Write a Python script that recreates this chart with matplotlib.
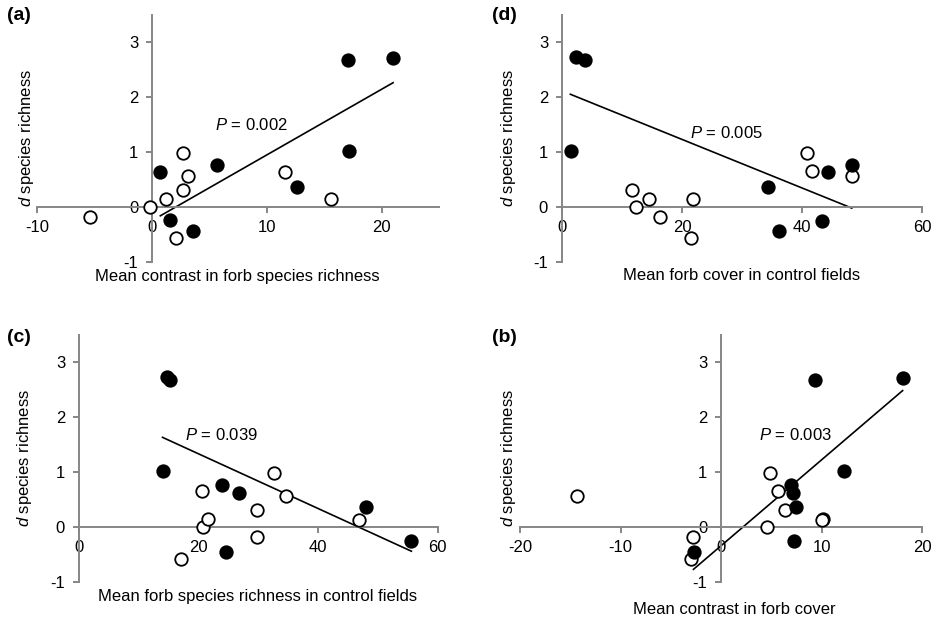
import matplotlib
matplotlib.use("Agg")
import matplotlib.pyplot as plt

plt.rcParams["font.family"] = ["Liberation Sans", "DejaVu Sans"]
plt.rcParams["mathtext.fontset"] = "custom"
plt.rcParams["mathtext.rm"] = "Liberation Sans"
plt.rcParams["mathtext.it"] = "Liberation Sans:italic"
plt.rcParams["axes.unicode_minus"] = False

# (a) mean contrast in forb species richness
a_x_filled = [0.73, 1.54, 3.58, 5.7, 12.65, 17.03, 17.18, 21.0]
a_y_filled = [0.64, -0.24, -0.44, 0.77, 0.37, 2.67, 1.01, 2.71]
a_x_open = [-5.44, -0.15, 1.25, 2.12, 2.7, 2.7, 3.14, 11.57, 15.55]
a_y_open = [-0.19, 0.0, 0.14, -0.57, 0.98, 0.31, 0.56, 0.64, 0.14]
a_line_x = [0.72, 21.0]
a_line_y = [-0.16, 2.26]

# (d) mean forb cover in control fields
d_x_filled = [1.56, 2.39, 3.89, 34.3, 36.2, 43.3, 44.3, 48.3]
d_y_filled = [1.01, 2.72, 2.67, 0.37, -0.44, -0.25, 0.64, 0.77]
d_x_open = [11.6, 12.4, 14.5, 16.3, 21.5, 21.8, 40.8, 41.7, 48.4]
d_y_open = [0.31, 0.0, 0.14, -0.19, -0.57, 0.14, 0.98, 0.65, 0.56]
d_line_x = [1.39, 48.3]
d_line_y = [2.05, -0.02]

# (c) mean forb species richness in control fields
c_x_filled = [13.97, 14.8, 15.25, 24.0, 24.6, 26.8, 48.0, 55.6]
c_y_filled = [1.01, 2.72, 2.67, 0.76, -0.45, 0.62, 0.37, -0.25]
c_x_open = [17.1, 20.56, 20.8, 21.6, 29.7, 29.7, 32.6, 34.6, 46.9]
c_y_open = [-0.58, 0.65, 0.0, 0.14, 0.31, -0.19, 0.99, 0.56, 0.13]
c_line_x = [13.97, 55.6]
c_line_y = [1.63, -0.44]

# (b) mean contrast in forb cover
b_x_filled = [-2.69, 6.94, 7.2, 7.28, 7.44, 9.37, 12.2, 18.07]
b_y_filled = [-0.45, 0.76, 0.62, -0.25, 0.37, 2.67, 1.01, 2.71]
b_x_open = [-14.35, -2.76, -2.99, 4.55, 4.85, 5.71, 6.35, 10.17, 10.0]
b_y_open = [0.56, -0.19, -0.58, 0.0, 0.99, 0.65, 0.31, 0.14, 0.13]
b_line_x = [-2.76, 18.07]
b_line_y = [-0.77, 2.48]

GRAY = "#868686"
W, H = 934, 617
FS = 12


def px_rect(left, right, top, bottom):
    return [left / W, (H - bottom) / H, (right - left) / W, (bottom - top) / H]


def panel(fig, rect, xlim, xticks, xf, yf, xo, yo, lx, ly, ptxt, ppos,
          xlabel, xlabel_pos, ylabel_pos, letter, letter_pos):
    ax = fig.add_axes(rect)
    ax.set_xlim(*xlim)
    ax.set_ylim(-1, 3.5)
    ax.set_xticks(xticks)
    ax.set_yticks([-1, 0, 1, 2, 3])
    for s in ("top", "right"):
        ax.spines[s].set_visible(False)
    ax.spines["left"].set_position(("data", 0))
    ax.spines["bottom"].set_position(("data", 0))
    for s in ("left", "bottom"):
        ax.spines[s].set_color(GRAY)
        ax.spines[s].set_linewidth(1.4)
    ax.tick_params(axis="both", direction="out", length=4, width=1.4,
                   color=GRAY, labelsize=FS)
    ax.tick_params(axis="x", pad=5)
    ax.tick_params(axis="y", pad=6)
    ax.patch.set_visible(False)

    ax.plot(lx, ly, color="black", lw=1.2, zorder=2)
    ax.plot(xo, yo, "o", ms=9, mfc="white", mec="black", mew=1.3,
            ls="none", zorder=3, clip_on=False)
    ax.plot(xf, yf, "o", ms=9, mfc="black", mec="black", mew=1.3,
            ls="none", zorder=3, clip_on=False)
    ax.text(ppos[0], ppos[1], ptxt, fontsize=FS, ha="left", va="center")

    fig.text(xlabel_pos[0] / W, 1 - xlabel_pos[1] / H, xlabel,
             fontsize=FS, ha="center", va="center")
    fig.text(ylabel_pos[0] / W, 1 - ylabel_pos[1] / H, "$d$ species richness",
             fontsize=FS, ha="center", va="center", rotation=90)
    fig.text(letter_pos[0] / W, 1 - letter_pos[1] / H, letter,
             fontsize=14, fontweight="bold", ha="left", va="center")
    return ax


fig = plt.figure(figsize=(9.34, 6.17), dpi=100)

panel(fig, px_rect(37.3, 439, 14.5, 262), (-10, 25), [-10, 0, 10, 20],
      a_x_filled, a_y_filled, a_x_open, a_y_open, a_line_x, a_line_y,
      "$P$ = 0.002", (5.5, 1.49),
      "Mean contrast in forb species richness", (237, 277), (27, 137.5),
      "(a)", (7, 15))

panel(fig, px_rect(562, 922, 14.5, 262), (0, 60), [0, 20, 40, 60],
      d_x_filled, d_y_filled, d_x_open, d_y_open, d_line_x, d_line_y,
      "$P$ = 0.005", (21.3, 1.35),
      "Mean forb cover in control fields", (742, 276), (509, 137.5),
      "(d)", (492, 15))

panel(fig, px_rect(79, 437.7, 334.5, 582), (0, 60), [0, 20, 40, 60],
      c_x_filled, c_y_filled, c_x_open, c_y_open, c_line_x, c_line_y,
      "$P$ = 0.039", (17.65, 1.67),
      "Mean forb species richness in control fields", (258, 596), (25, 457.5),
      "(c)", (7, 338))

panel(fig, px_rect(520.3, 922, 334.5, 582), (-20, 20), [-20, -10, 0, 10, 20],
      b_x_filled, b_y_filled, b_x_open, b_y_open, b_line_x, b_line_y,
      "$P$ = 0.003", (3.75, 1.68),
      "Mean contrast in forb cover", (734, 610), (509, 457.5),
      "(b)", (492, 338))

fig.savefig("out.png", dpi=100)
